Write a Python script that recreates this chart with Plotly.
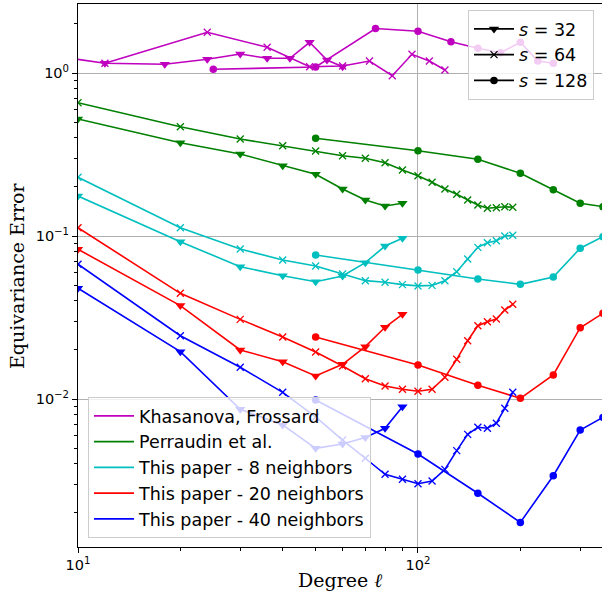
import plotly.graph_objects as go

# ---------------- data ----------------
# Degree values
ell_s32 = [10, 20, 30, 40, 50, 60, 70, 80, 90]
ell_s64 = [10, 20, 30, 40, 50, 60, 70, 80, 90, 100, 110, 120, 130, 140, 150, 160, 170, 180, 190]
ell_s128 = [50, 100, 150, 200, 250, 300, 350]
kf_ell_s32 = [6, 12, 18, 24, 30, 36, 42, 48, 54, 60]
kf_ell_s64 = [12, 24, 36, 48, 60, 72, 84, 96, 108, 120]
kf_ell_s128 = [25, 50, 75, 100, 125, 150, 175, 200, 225, 250]

# Khasanova, Frossard
kf_s32 = [1.415, 1.147, 1.132, 1.214, 1.308, 1.231, 1.231, 1.543, 1.202, 1.093]
kf_s64 = [1.147, 1.777, 1.438, 1.093, 1.104, 1.185, 0.963, 1.302, 1.185, 1.043]
kf_s128 = [1.054, 1.088, 1.875, 1.803, 1.556, 1.418, 1.332, 1.543, 1.185, 1.147]

# Perraudin et al.
pe_s32 = [0.5222, 0.3736, 0.3185, 0.2700, 0.2390, 0.1942, 0.1663, 0.1528, 0.1587]
pe_s64 = [0.6574, 0.4684, 0.3937, 0.3581, 0.3322, 0.3109, 0.2997, 0.2816, 0.2540, 0.2344,
          0.2136, 0.1942, 0.1802, 0.1663, 0.1549, 0.1479, 0.1492, 0.1513, 0.1500]
pe_s128 = [0.3975, 0.3337, 0.2955, 0.2424, 0.1923, 0.1587, 0.1513]

# This paper - 8 neighbors
n8_s32 = [0.1759, 0.0923, 0.0648, 0.0571, 0.0524, 0.0568, 0.0686, 0.0868, 0.0968]
n8_s64 = [0.2291, 0.1124, 0.0832, 0.0713, 0.0655, 0.0585, 0.0532, 0.0520, 0.0503, 0.0494,
          0.0498, 0.0532, 0.0604, 0.0723, 0.0852, 0.0910, 0.0936, 0.1000, 0.1010]
n8_s128 = [0.0764, 0.0619, 0.0545, 0.0505, 0.0560, 0.0841, 0.0990]

# This paper - 20 neighbors
n20_s32 = [0.0829, 0.0374, 0.0200, 0.01694, 0.01384, 0.01633, 0.02094, 0.02754, 0.03309]
n20_s64 = [0.1124, 0.0445, 0.0308, 0.0240, 0.01942, 0.01594, 0.01332, 0.01202, 0.01147, 0.01115,
           0.01147, 0.01358, 0.01752, 0.02279, 0.02817, 0.02980, 0.03096, 0.03516, 0.03811]
n20_s128 = [0.0240, 0.01617, 0.01213, 0.01010, 0.01404, 0.02738, 0.03357]

# This paper - 40 neighbors
n40_s32 = [0.0478, 0.01951, 0.00865, 0.00693, 0.00498, 0.00530, 0.00580, 0.00661, 0.00897]
n40_s64 = [0.0671, 0.02445, 0.01565, 0.01099, 0.00776, 0.00560, 0.00433, 0.00345, 0.00322, 0.00302,
           0.00314, 0.00370, 0.00482, 0.00607, 0.00671, 0.00661, 0.00710, 0.00877, 0.01099]
n40_s128 = [0.00986, 0.00460, 0.00264, 0.00175, 0.00338, 0.00645, 0.00772]

method_names = ["Khasanova, Frossard", "Perraudin et al.", "This paper - 8 neighbors",
                "This paper - 20 neighbors", "This paper - 40 neighbors"]
method_colors = ["#bf00bf", "#008000", "#00bfbf", "#ff0000", "#0000ff"]
size_names = ["<i>s</i> = 32", "<i>s</i> = 64", "<i>s</i> = 128"]

x_tickvals = [10, 100]
x_ticktext = ["10<sup>1</sup>", "10<sup>2</sup>"]
x_minor = [20, 30, 40, 50, 60, 70, 80, 90, 200, 300]
y_tickvals = [0.01, 0.1, 1]
y_ticktext = ["10<sup>\u22122</sup>", "10<sup>\u22121</sup>", "10<sup>0</sup>"]
y_minor = [0.002, 0.003, 0.004, 0.005, 0.006, 0.007, 0.008, 0.009,
           0.02, 0.03, 0.04, 0.05, 0.06, 0.07, 0.08, 0.09,
           0.2, 0.3, 0.4, 0.5, 0.6, 0.7, 0.8, 0.9, 2]

# ---------------- figure ----------------
series = [
    (kf_ell_s32, kf_s32, kf_ell_s64, kf_s64, kf_ell_s128, kf_s128),
    (ell_s32, pe_s32, ell_s64, pe_s64, ell_s128, pe_s128),
    (ell_s32, n8_s32, ell_s64, n8_s64, ell_s128, n8_s128),
    (ell_s32, n20_s32, ell_s64, n20_s64, ell_s128, n20_s128),
    (ell_s32, n40_s32, ell_s64, n40_s64, ell_s128, n40_s128),
]

fig = go.Figure()
LW = 1.6

def marker_for(kind, color):
    if kind == 0:
        return dict(symbol="triangle-down", size=9, color=color, line=dict(width=0))
    if kind == 1:
        return dict(symbol="x-thin", size=7, color=color, line=dict(width=1.3, color=color))
    return dict(symbol="circle", size=7.5, color=color, line=dict(width=0))

for (xa, ya, xb, yb, xc, yc), color in zip(series, method_colors):
    for kind, (xs, ys) in enumerate([(xa, ya), (xb, yb), (xc, yc)]):
        fig.add_trace(go.Scatter(x=xs, y=ys, mode="lines+markers",
                                 line=dict(color=color, width=LW),
                                 marker=marker_for(kind, color),
                                 showlegend=False, hoverinfo="skip"))

# legend 1: methods
for i, (name, color) in enumerate(zip(method_names, method_colors)):
    fig.add_trace(go.Scatter(x=[None], y=[None], mode="lines", name=name,
                             line=dict(color=color, width=LW), legend="legend"))
# legend 2: sizes
for k, name in enumerate(size_names):
    fig.add_trace(go.Scatter(x=[None], y=[None], mode="lines+markers", name=name,
                             line=dict(color="black", width=LW),
                             marker=marker_for(k, "black"), legend="legend2"))

W, H = 602, 596
L, R, T, B = 78, 0, 4, 49
pw = W - L - R
ph = H - T - B

def px2paper_x(px):
    return (px - L) / pw

def px2paper_y(py):
    return (H - B - py) / ph

tickfont = dict(family="DejaVu Sans", size=14.5, color="black")

fig.update_layout(
    width=W, height=H,
    margin=dict(l=L, r=R, t=T, b=B, pad=0),
    paper_bgcolor="white", plot_bgcolor="white",
    font=dict(family="DejaVu Sans", color="black"),
    xaxis=dict(type="log", range=[1, 2.5412], showline=True, linecolor="black", linewidth=1.1,
               mirror=True, ticks="outside", ticklen=5, tickwidth=1.1, tickcolor="black",
               tickmode="array", tickvals=x_tickvals, ticktext=x_ticktext, tickfont=tickfont,
               showgrid=True, gridcolor="#b0b0b0", gridwidth=1, zeroline=False,
               minor=dict(tickmode="array", tickvals=x_minor, ticks="outside", ticklen=3,
                          tickwidth=0.9, tickcolor="black", showgrid=False)),
    yaxis=dict(type="log", range=[-2.908, 0.4233], showline=True, linecolor="black", linewidth=1.1,
               mirror=False, ticks="outside", ticklen=5, tickwidth=1.1, tickcolor="black",
               tickmode="array", tickvals=y_tickvals, ticktext=y_ticktext, tickfont=tickfont,
               showgrid=True, gridcolor="#b0b0b0", gridwidth=1, zeroline=False,
               minor=dict(tickmode="array", tickvals=y_minor, ticks="outside", ticklen=3,
                          tickwidth=0.9, tickcolor="black", showgrid=False)),
    legend=dict(x=px2paper_x(88), y=px2paper_y(538), xanchor="left", yanchor="bottom",
                bgcolor="rgba(255,255,255,0.8)", bordercolor="#cccccc", borderwidth=1,
                itemwidth=40,
                font=dict(family="DejaVu Sans", size=17.5, color="black"), traceorder="normal"),
    legend2=dict(x=px2paper_x(594), y=px2paper_y(10), xanchor="right", yanchor="top",
                 bgcolor="rgba(255,255,255,0.8)", bordercolor="#cccccc", borderwidth=1,
                 itemwidth=40,
                 font=dict(family="DejaVu Sans", size=17.5, color="black"), traceorder="normal"),
    annotations=[
        dict(text="Degree <i>\u2113</i>", xref="paper", yref="paper",
             x=px2paper_x(340), y=px2paper_y(580), xanchor="center", yanchor="middle",
             showarrow=False, font=dict(family="DejaVu Serif", size=19, color="black")),
        dict(text="Equivariance Error", xref="paper", yref="paper", textangle=-90,
             x=px2paper_x(17), y=px2paper_y(276), xanchor="center", yanchor="middle",
             showarrow=False, font=dict(family="DejaVu Serif", size=19, color="black")),
    ],
)

fig.write_html("out.html", config={"displayModeBar": False},
               post_script="document.body.style.margin='0';document.body.style.overflow='hidden';")
